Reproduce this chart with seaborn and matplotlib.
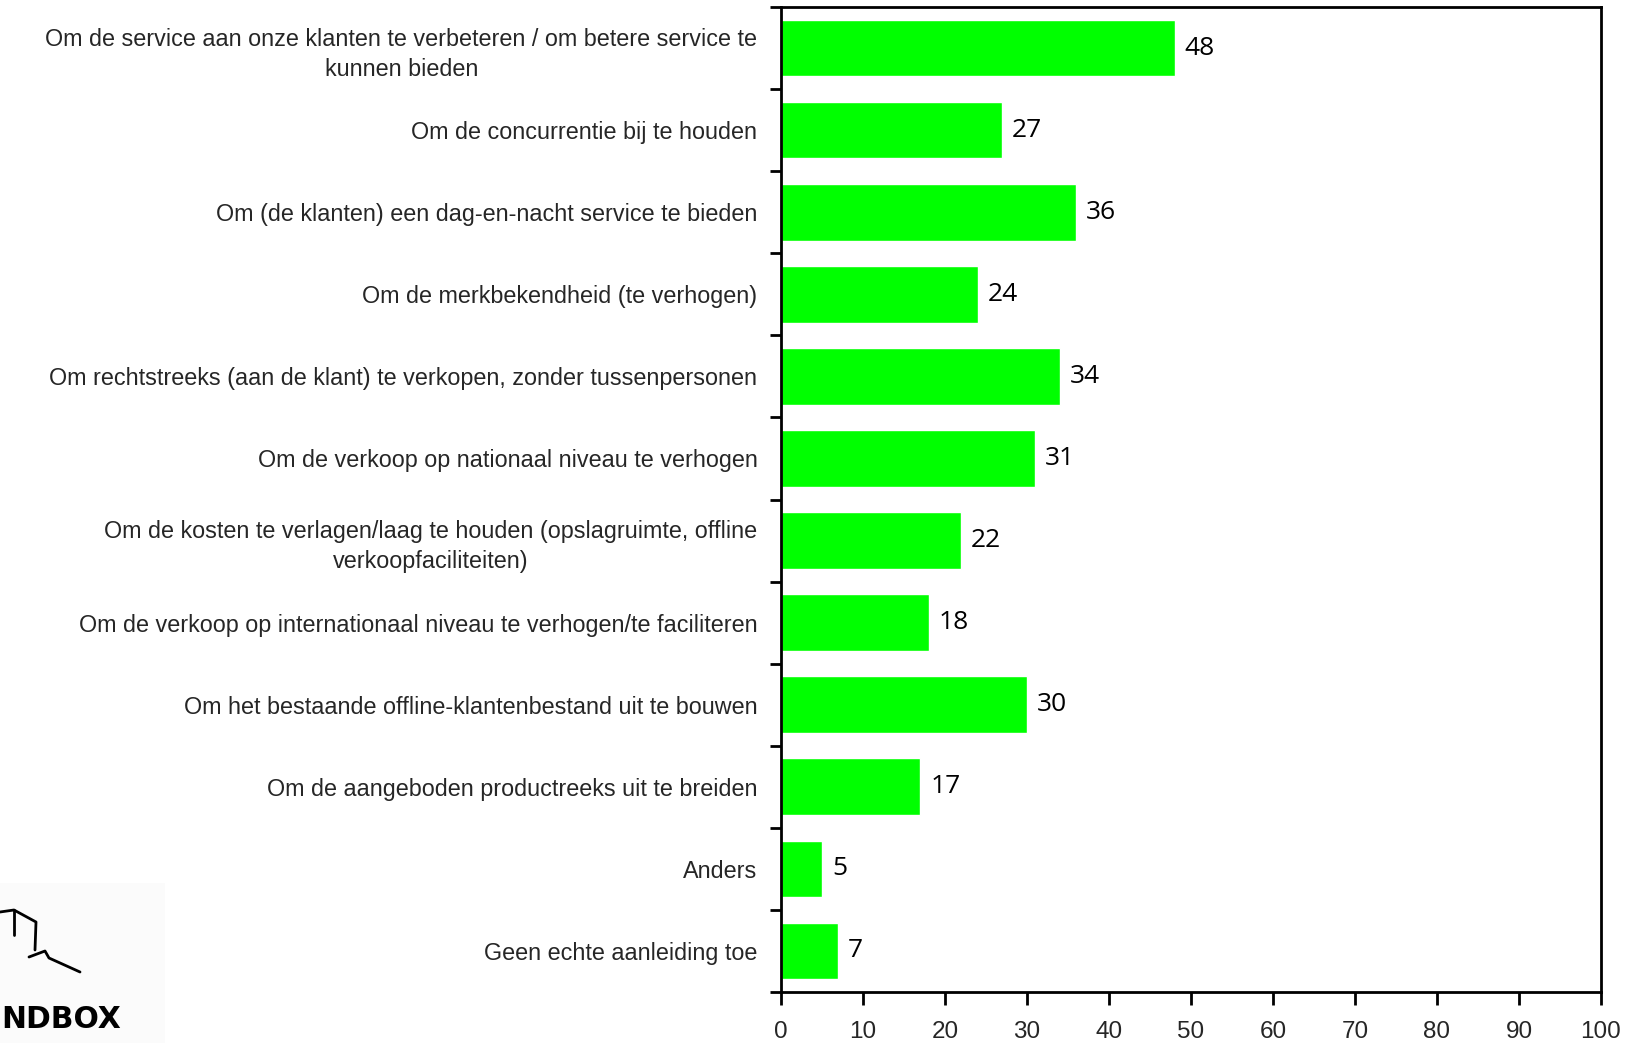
import matplotlib
matplotlib.use("Agg")
import matplotlib.pyplot as plt
from matplotlib.lines import Line2D
from matplotlib.patches import Rectangle
import seaborn as sns
import pandas as pd
import numpy as np

reasons = [
    "Om de service aan onze klanten te verbeteren / om betere service te\nkunnen bieden",
    "Om de concurrentie bij te houden",
    "Om (de klanten) een dag-en-nacht service te bieden",
    "Om de merkbekendheid (te verhogen)",
    "Om rechtstreeks (aan de klant) te verkopen, zonder tussenpersonen",
    "Om de verkoop op nationaal niveau te verhogen",
    "Om de kosten te verlagen/laag te houden (opslagruimte, offline\nverkoopfaciliteiten)",
    "Om de verkoop op internationaal niveau te verhogen/te faciliteren",
    "Om het bestaande offline-klantenbestand uit te bouwen",
    "Om de aangeboden productreeks uit te breiden",
    "Anders",
    "Geen echte aanleiding toe",
]
percentages = [48, 27, 36, 24, 34, 31, 22, 18, 30, 17, 5, 7]
x_ticks = [0, 10, 20, 30, 40, 50, 60, 70, 80, 90, 100]

df = pd.DataFrame({"reden": reasons, "pct": percentages})

sns.set_theme(style="white")
plt.rcParams["font.family"] = ["Liberation Sans", "DejaVu Sans"]

W, H = 1634, 1043
fig = plt.figure(figsize=(W / 100, H / 100), dpi=100)
ax = fig.add_axes([781 / W, 1 - 992 / H, (1601 - 781) / W, (992 - 7) / H])

sns.barplot(data=df, x="pct", y="reden", orient="h", color="#00FF00",
            saturation=1, width=0.69, ax=ax)

ax.set_xlim(0, 100)
ax.set_ylim(len(reasons) - 0.5, -0.5)
ax.set_xlabel("")
ax.set_ylabel("")

for s in ax.spines.values():
    s.set_visible(True)
    s.set_color("black")
    s.set_linewidth(2)

# category labels, with tick marks on the category boundaries
ax.set_yticks(range(len(reasons)))
ax.set_yticklabels(reasons, fontsize=16.8, ha="right", multialignment="center",
                   linespacing=1.4)
ax.set_yticks(np.arange(-0.5, len(reasons), 1), minor=True)
ax.tick_params(axis="y", which="major", length=0, pad=17)
ax.tick_params(axis="y", which="minor", length=8, width=2, color="black",
               direction="out", left=True)

ax.set_xticks(x_ticks)
ax.set_xticklabels([str(t) for t in x_ticks], fontsize=17.5,
                   family=["Liberation Sans Narrow", "Liberation Sans"])
ax.tick_params(axis="x", which="major", length=9, width=2, color="black",
               direction="out", bottom=True, pad=12)

for i, v in enumerate(percentages):
    ax.text(v + 1.2, i, str(v), va="center", ha="left", fontsize=19,
            family=["Open Sans", "DejaVu Sans"], color="black")

# logo in the lower-left corner
fig.patches.append(Rectangle((0, 0), 165 / W, (H - 883) / H,
                             transform=fig.transFigure, facecolor="#fbfbfb",
                             edgecolor="none", zorder=0))
fig.text(1 / W, 1 - 1028 / H, "NDBOX", ha="left", va="baseline",
         fontsize=21.5, fontweight="heavy",
         family=["Liberation Sans Narrow", "DejaVu Sans"], color="black")
outline = [(0, 912), (14, 910), (36, 922), (35, 950)]
ledge = [(29, 957), (45, 951), (49, 958), (80, 972)]
inner = [(14, 910), (14, 935)]
for pts in (outline, ledge, inner):
    xs = [p[0] / W for p in pts]
    ys = [1 - p[1] / H for p in pts]
    fig.lines.append(Line2D(xs, ys, transform=fig.transFigure, color="black",
                            linewidth=2))

fig.savefig("out.png", dpi=100)
